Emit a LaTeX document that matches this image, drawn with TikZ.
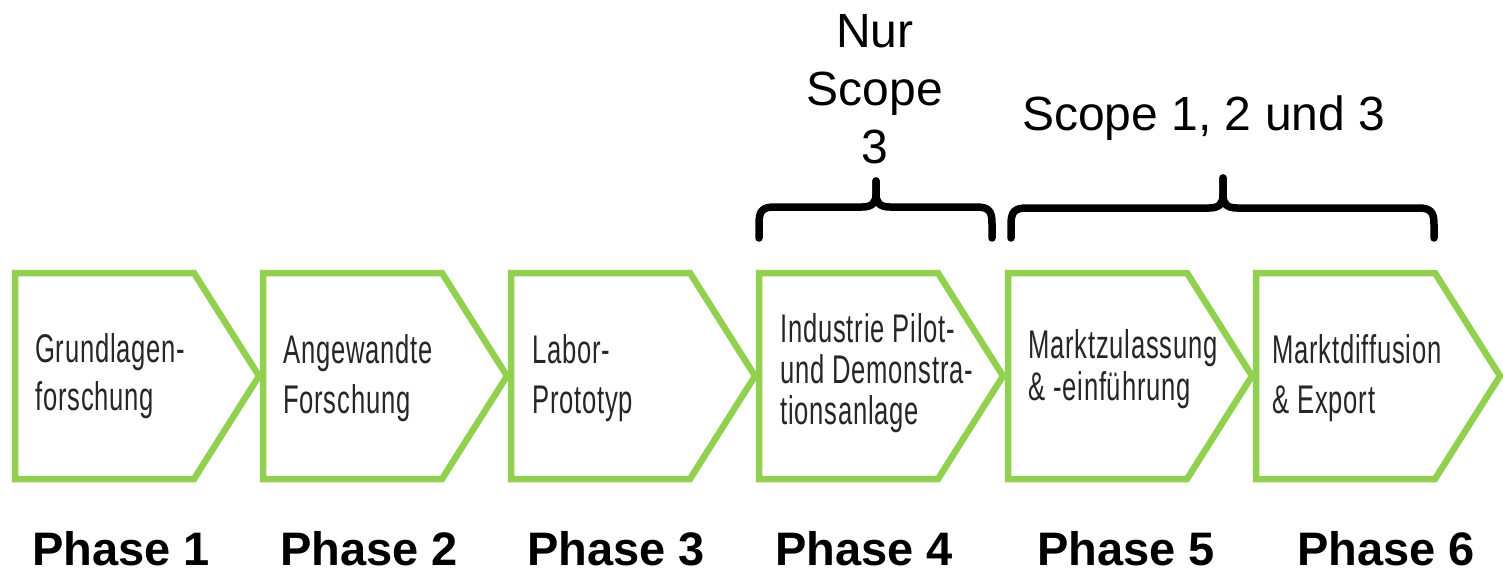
\documentclass[tikz,border=0pt]{standalone}
\usepackage{fontspec}
\setmainfont{Liberation Sans}
\newfontfamily\condfont[FakeStretch=0.64,LetterSpace=2]{Liberation Sans}
\definecolor{leafgreen}{HTML}{92D050}

% curly brace lying on its back: left end, right end, peak x, bar y, foot y, peak y
\newcommand\drawscopebrace[6]{%
  \draw[bracepath] (#1,#5) -- (#1,#4+17) .. controls (#1,#4+4) and (#1+3,#4) .. (#1+16,#4)
     -- (#3-14,#4) .. controls (#3-4,#4) and (#3,#4-4) .. (#3,#4-13) -- (#3,#6);
  \draw[bracepath] (#3,#6) -- (#3,#4-13) .. controls (#3,#4-4) and (#3+4,#4) .. (#3+14,#4)
     -- (#2-16,#4) .. controls (#2-3,#4) and (#2,#4+4) .. (#2,#4+17) -- (#2,#5);
}

\begin{document}
\begin{tikzpicture}[x=1pt,y=-1pt,
  stage/.style={draw=leafgreen, line width=6.5pt, line join=miter, fill=white},
  stagetext/.style={anchor=base west, inner sep=0pt, text=black!85,
    font=\condfont\fontsize{40}{48}\selectfont},
  phaselabel/.style={anchor=base west, inner sep=0pt,
    font=\bfseries\fontsize{47}{47}\selectfont},
  scopetext/.style={anchor=base, inner sep=0pt, font=\fontsize{48}{58}\selectfont},
  bracepath/.style={line width=7.5pt, line cap=round, line join=round},
  chevron/.pic={\draw[stage] (0,273) -- (179,273) -- (244,376) -- (179,479) -- (0,479) -- cycle;}]

\useasboundingbox (0,0) rectangle (1503,573);

% the six process stages
\pic at (15,0) {chevron};
\pic at (263,0) {chevron};
\pic at (511,0) {chevron};
\pic at (759,0) {chevron};
\pic at (1008,0) {chevron};
\pic at (1256,0) {chevron};

\node[stagetext] (t1) at (35,362)
  {\vtop{\baselineskip=48pt\hbox{Grundlagen-}\hbox{forschung}}};
\node[stagetext] (t2) at (283,363)
  {\vtop{\baselineskip=50pt\hbox{Angewandte}\hbox{Forschung}}};
\node[stagetext] (t3) at (532,363)
  {\vtop{\baselineskip=50pt\hbox{Labor-}\hbox{Prototyp}}};
\node[stagetext] (t4) at (780,342)
  {\vtop{\baselineskip=41pt\hbox{Industrie Pilot-}\hbox{und Demonstra-}\hbox{tionsanlage}}};
\node[stagetext] (t5) at (1028,358)
  {\vtop{\baselineskip=42pt\hbox{Marktzulassung}\hbox{\& -einführung}}};
\node[stagetext] (t6) at (1272,363)
  {\vtop{\baselineskip=50pt\hbox{Marktdiffusion}\hbox{\& Export}}};

% phase numbers
\node[phaselabel] (p1) at (32,565) {Phase 1};
\node[phaselabel] (p2) at (280,565) {Phase 2};
\node[phaselabel] (p3) at (527,565) {Phase 3};
\node[phaselabel] (p4) at (775,565) {Phase 4};
\node[phaselabel] (p5) at (1037,565) {Phase 5};
\node[phaselabel] (p6) at (1297,565) {Phase 6};

% scope braces and their captions
\drawscopebrace{759}{992}{876}{207}{238}{181}
\drawscopebrace{1011}{1434}{1223}{208}{238}{178}

\node[scopetext] (nur) at (875,47)
  {\vtop{\baselineskip=58pt\hbox to 160pt{\hss Nur\hss}\hbox to 160pt{\hss Scope\hss}\hbox to 160pt{\hss 3\hss}}};
\node[scopetext, anchor=base west] (all) at (1022,130) {Scope 1, 2 und 3};

\end{tikzpicture}
\end{document}
